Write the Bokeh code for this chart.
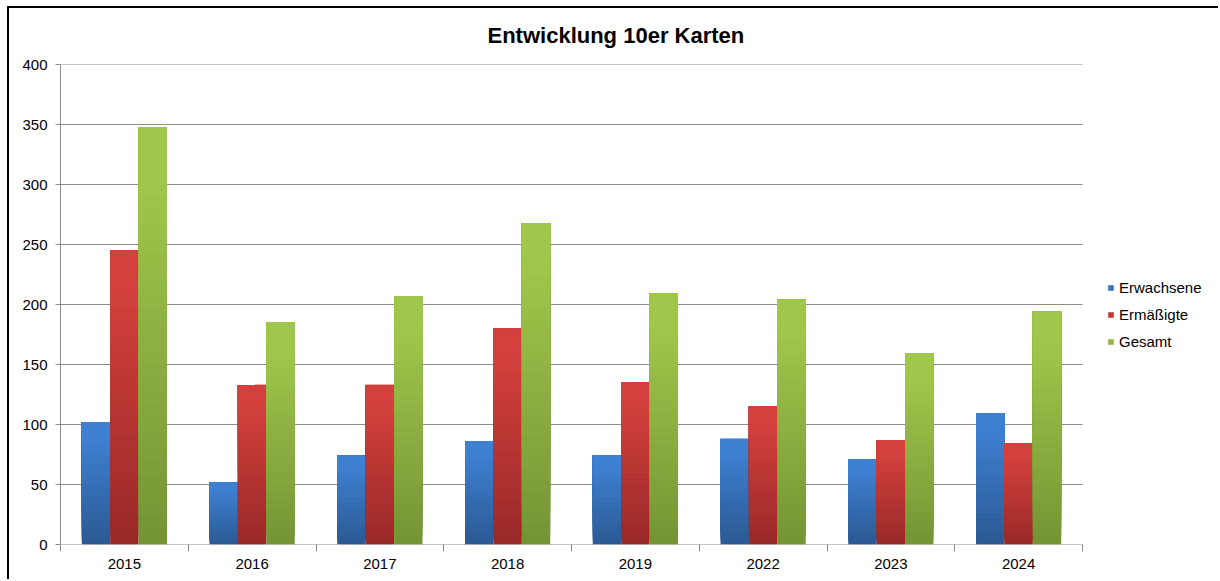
from bokeh.plotting import figure
from bokeh.models import (ColumnDataSource, Range1d, FixedTicker, Legend, LegendItem,
                          InlineStyleSheet)
from bokeh.embed import file_html
from bokeh.resources import INLINE

# ---- data ----
years = ["2015", "2016", "2017", "2018", "2019", "2022", "2023", "2024"]
erwachsene = [102, 52, 74, 86, 74, 88, 71, 109]
ermaessigte = [245, 133, 133, 180, 135, 115, 87, 84]
gesamt = [348, 185, 207, 268, 209, 204, 159, 194]
series_names = ["Erwachsene", "Ermäßigte", "Gesamt"]
y_ticks = [0, 50, 100, 150, 200, 250, 300, 350, 400]

# gradient colours: (bottom, top)
grad = {
    "Erwachsene": ((0x2b, 0x59, 0x92), (0x3e, 0x80, 0xd2)),
    "Ermäßigte": ((0x98, 0x29, 0x27), (0xd3, 0x40, 0x3d)),
    "Gesamt": ((0x74, 0x94, 0x35), (0x9f, 0xc7, 0x4b)),
}

FONT = "Liberation Sans"
GRID = "#8c8c8c"
N = 30
bar_w = 1 / 4.5
n_cat = len(years)
# frame spans to the right canvas edge so the legend can live inside it
x_end = n_cat * 1160 / 1022

p = figure(width=1211, height=573, x_range=Range1d(0, x_end), y_range=Range1d(0, 400),
           output_backend="svg", toolbar_location=None,
           min_border_left=51, min_border_right=0, min_border_top=56, min_border_bottom=37)
p.stylesheets = [InlineStyleSheet(css=":host { margin-left: 7px; margin-top: 6px; "
                                      "border-left: 2px solid black; border-top: 2px solid black; }")]

p.title.text = "Entwicklung 10er Karten"
p.title.text_font = FONT
p.title.text_font_size = "22px"
p.title.text_font_style = "bold"
p.title.align = "left"
p.title.offset = 427
p.title.vertical_align = "top"
p.title.standoff = 29
p.title.text_color = "#000000"

p.outline_line_color = None
p.xgrid.grid_line_color = None
p.ygrid.grid_line_color = None

# horizontal gridlines and category axis line over the category span only
p.segment(x0=[0] * len(y_ticks), x1=[n_cat] * len(y_ticks), y0=y_ticks, y1=y_ticks,
          line_color=GRID, line_width=1)

# y axis
p.yaxis.ticker = FixedTicker(ticks=y_ticks)
p.yaxis.axis_line_color = GRID
p.yaxis.major_tick_line_color = GRID
p.yaxis.major_tick_out = 5
p.yaxis.major_tick_in = 0
p.yaxis.minor_tick_line_color = None
p.yaxis.major_label_text_font = FONT
p.yaxis.major_label_text_font_size = "15px"
p.yaxis.major_label_text_color = "#000000"
p.yaxis.major_label_standoff = 8

# x axis: labels at centres, ticks at category boundaries
centers = [i + 0.5 for i in range(n_cat)]
bounds = list(range(n_cat + 1))
p.xaxis.ticker = FixedTicker(ticks=centers, minor_ticks=bounds)
p.xaxis.major_label_overrides = {c: y for c, y in zip(centers, years)}
p.xaxis.axis_line_color = None
p.xaxis.major_tick_line_color = None
p.xaxis.minor_tick_line_color = GRID
p.xaxis.minor_tick_out = 7
p.xaxis.minor_tick_in = 0
p.xaxis.major_label_text_font = FONT
p.xaxis.major_label_text_font_size = "15px"
p.xaxis.major_label_text_color = "#000000"
p.xaxis.major_label_standoff = 7

renderers = {}
for s_idx, (name, vals) in enumerate(zip(series_names, [erwachsene, ermaessigte, gesamt])):
    lo, hi = grad[name]
    xs, bots, tops, cols = [], [], [], []
    for i, v in enumerate(vals):
        xc = i + 0.5 + (s_idx - 1) * bar_w
        for k in range(N):
            t = (k + 0.5) / N
            t2 = min(1.0, t * 1.15)
            c = tuple(int(round(lo[j] + (hi[j] - lo[j]) * t2)) for j in range(3))
            xs.append(xc)
            bots.append(v * k / N)
            tops.append(v)   # overlapping slices, later ones cover the upper part
            cols.append("#%02x%02x%02x" % c)
    src = ColumnDataSource(dict(x=xs, bottom=bots, top=tops, color=cols))
    r = p.vbar(x="x", bottom="bottom", top="top", width=bar_w, source=src,
               fill_color="color", line_color=None)
    renderers[name] = r

legend_labels = ["Erwachsene", "Ermäßigte", "Gesamt"]
items = [LegendItem(label=lab, renderers=[renderers[n]], index=int(N * 0.6))
         for lab, n in zip(legend_labels, series_names)]
legend = Legend(items=items, location=(1047, 193), orientation="vertical",
                glyph_width=7, glyph_height=7, label_standoff=5,
                label_text_font=FONT, label_text_font_size="15px", label_text_color="#000000",
                label_height=20, spacing=7, padding=0, margin=0,
                border_line_color=None, background_fill_alpha=0)
p.add_layout(legend, "center")

open("out.html", "w").write(file_html(p, INLINE))
